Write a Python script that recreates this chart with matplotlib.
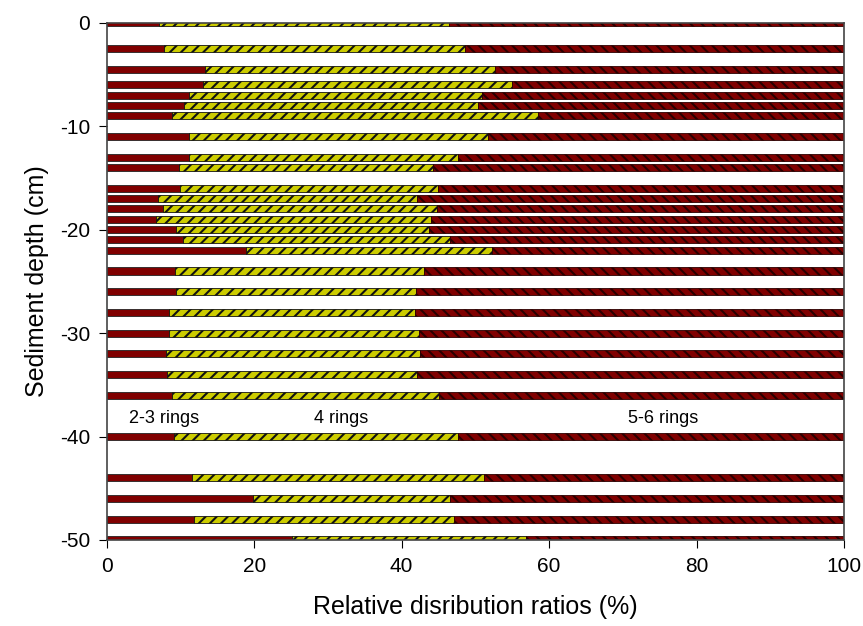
import matplotlib.pyplot as plt
import numpy as np

plt.rcParams['font.family'] = ['Liberation Sans', 'DejaVu Sans']
plt.rcParams['hatch.linewidth'] = 1.5
plt.rcParams['axes.unicode_minus'] = False

# sediment depth (cm) and cumulative boundaries (%)
depth = [0, -2.5, -4.5, -6, -7, -8, -9, -11, -13, -14, -16, -17, -18, -19, -20,
         -21, -22, -24, -26, -28, -30, -32, -34, -36, -40, -44, -46, -48, -50]
ring23 = [7.1, 7.8, 13.4, 13.1, 11.2, 10.5, 8.8, 11.1, 11.1, 9.8, 9.9, 7.0, 7.7, 6.7, 9.4,
          10.4, 18.9, 9.2, 9.4, 8.5, 8.5, 8.1, 8.2, 8.8, 9.1, 11.6, 19.8, 11.9, 25.2]
upto4 = [46.4, 48.6, 52.7, 55.0, 50.9, 50.4, 58.5, 51.7, 47.6, 44.3, 44.9, 42.1, 44.8, 44.0, 43.7,
         46.5, 52.2, 43.0, 42.0, 41.8, 42.3, 42.5, 42.1, 45.1, 47.7, 51.2, 46.6, 47.1, 56.9]

ring23 = np.array(ring23)
ring4 = np.array(upto4) - ring23
ring56 = 100 - np.array(upto4)

fig = plt.figure(figsize=(8.63, 6.26), dpi=100)
ax = fig.add_axes([0.1236, 0.1374, 0.8544, 0.8263])

h = 0.68
ax.barh(depth, ring23, height=h, color='#800000', edgecolor='#222222', linewidth=0.6)
ax.barh(depth, ring4, left=ring23, height=h, color='#cccc00', edgecolor='#111111',
        linewidth=0.6, hatch='///')
ax.barh(depth, ring56, left=ring23 + ring4, height=h, color='#800000', edgecolor='#2a0000',
        linewidth=0.6, hatch='\\\\\\')

ax.text(7.8, -38.3, '2-3 rings', fontsize=13, ha='center', va='center')
ax.text(31.8, -38.3, '4 rings', fontsize=13, ha='center', va='center')
ax.text(75.4, -38.3, '5-6 rings', fontsize=13, ha='center', va='center')

ax.set_xlim(0, 100)
ax.set_ylim(-50, 0)
ax.set_xticks(range(0, 101, 20))
ax.set_yticks(range(-50, 1, 10))
ax.tick_params(direction='out', length=6, labelsize=15, pad=6)
ax.set_xlabel('Relative disribution ratios (%)', fontsize=18, labelpad=14)
ax.set_ylabel('Sediment depth (cm)', fontsize=18, labelpad=8)
for s in ax.spines.values():
    s.set_color('#444444')
    s.set_linewidth(1.2)

fig.savefig('out.png', dpi=100)
